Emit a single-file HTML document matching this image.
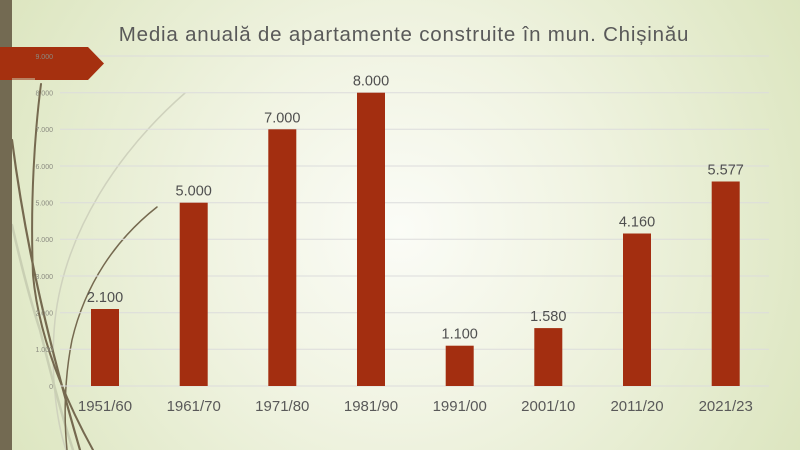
<!DOCTYPE html>
<html><head><meta charset="utf-8"><style>
html,body{margin:0;padding:0;}
body{width:800px;height:450px;overflow:hidden;}
svg{display:block;}
text{font-family:"Liberation Sans",sans-serif;}
</style></head><body>
<svg width="800" height="450" viewBox="0 0 800 450" xmlns="http://www.w3.org/2000/svg">
<defs>
<radialGradient id="bg" cx="400" cy="230" r="520" gradientUnits="userSpaceOnUse">
<stop offset="0" stop-color="#fbfcf7"/>
<stop offset="0.35" stop-color="#f1f4e3"/>
<stop offset="0.75" stop-color="#e1e9c8"/>
<stop offset="1" stop-color="#d8e2b8"/>
</radialGradient>
</defs>
<rect width="800" height="450" fill="url(#bg)"/>
<!-- decorative curves -->
<g fill="none" stroke-linecap="round">
<path d="M185,93 C120,150 65,230 55,320 C50,370 56,420 66,450" stroke="#cfd2bd" stroke-width="1.5"/>
<path d="M12,225 C20,260 30,300 40,330 C50,370 60,410 73,450" stroke="#c9cfb3" stroke-width="2.5"/>
<path d="M12,140 C25,240 45,330 80,450" stroke="#75694f" stroke-width="2.2"/>
<path d="M41,84 C35,130 30,200 33,275 C38,330 60,390 93,450" stroke="#75694f" stroke-width="2"/>
<path d="M157,207 C115,240 85,285 72,340 C64,380 64,420 67,450" stroke="#75694f" stroke-width="1.5"/>
</g>
<!-- left stripe -->
<rect x="0" y="0" width="12" height="450" fill="#736a52"/>
<!-- gridlines -->
<g stroke="#dcdcdc" stroke-width="1">
<line x1="60" y1="56" x2="769" y2="56"/>
<line x1="60" y1="92.7" x2="769" y2="92.7"/>
<line x1="60" y1="129.3" x2="769" y2="129.3"/>
<line x1="60" y1="166" x2="769" y2="166"/>
<line x1="60" y1="202.7" x2="769" y2="202.7"/>
<line x1="60" y1="239.3" x2="769" y2="239.3"/>
<line x1="60" y1="276" x2="769" y2="276"/>
<line x1="60" y1="312.7" x2="769" y2="312.7"/>
<line x1="60" y1="349.3" x2="769" y2="349.3"/>
<line x1="60" y1="386" x2="769" y2="386"/>
</g>
<!-- banner -->
<polygon points="0,47 88,47 104,63.5 88,80 0,80" fill="#a5300f"/>
<line x1="12" y1="79" x2="35" y2="79" stroke="#cdd3b5" stroke-width="1"/>
<!-- y labels -->
<g font-size="7" fill="#8a8a80" text-anchor="end">
<text x="53" y="59">9.000</text>
<text x="53" y="95.5">8.000</text>
<text x="53" y="132">7.000</text>
<text x="53" y="169">6.000</text>
<text x="53" y="205.5">5.000</text>
<text x="53" y="242">4.000</text>
<text x="53" y="279">3.000</text>
<text x="53" y="315.5">2.000</text>
<text x="53" y="352">1.000</text>
<text x="53" y="389">0</text>
</g>
<!-- bars -->
<g fill="#a32e10">
<rect x="91" y="309" width="28" height="77"/>
<rect x="179.7" y="202.7" width="28" height="183.3"/>
<rect x="268.3" y="129.3" width="28" height="256.7"/>
<rect x="357" y="92.7" width="28" height="293.3"/>
<rect x="445.7" y="345.7" width="28" height="40.3"/>
<rect x="534.3" y="328.1" width="28" height="57.9"/>
<rect x="623" y="233.5" width="28" height="152.5"/>
<rect x="711.7" y="181.5" width="28" height="204.5"/>
</g>
<!-- value labels -->
<g font-size="14.5" fill="#4f4f4f" text-anchor="middle">
<text x="105" y="302">2.100</text>
<text x="193.7" y="195.7">5.000</text>
<text x="282.3" y="122.3">7.000</text>
<text x="371" y="85.7">8.000</text>
<text x="459.7" y="338.7">1.100</text>
<text x="548.3" y="321.1">1.580</text>
<text x="637" y="226.5">4.160</text>
<text x="725.7" y="174.5">5.577</text>
</g>
<!-- category labels -->
<g font-size="15" fill="#595959" text-anchor="middle">
<text x="105" y="411">1951/60</text>
<text x="193.7" y="411">1961/70</text>
<text x="282.3" y="411">1971/80</text>
<text x="371" y="411">1981/90</text>
<text x="459.7" y="411">1991/00</text>
<text x="548.3" y="411">2001/10</text>
<text x="637" y="411">2011/20</text>
<text x="725.7" y="411">2021/23</text>
</g>
<!-- title -->
<text x="404" y="41" font-size="20.5" fill="#595959" text-anchor="middle" letter-spacing="0.8">Media anuală de apartamente construite în mun. Chișinău</text>
</svg>
</body></html>
